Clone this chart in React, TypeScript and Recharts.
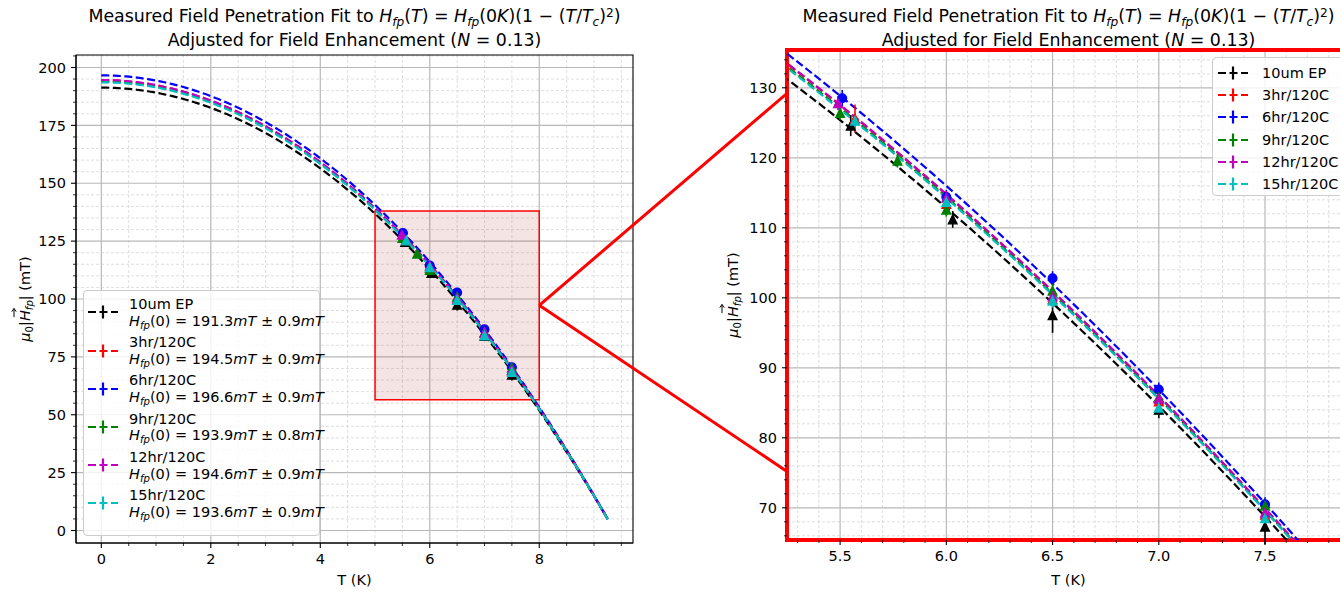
import React from 'react';
import {
  ComposedChart,
  Line,
  Scatter,
  XAxis,
  YAxis,
  ErrorBar,
  CartesianGrid,
  ReferenceArea,
} from 'recharts';

const FONT = '"DejaVu Sans", "Liberation Sans", sans-serif';

// ---- series metadata ----
const seriesNames = ['10um EP', '3hr/120C', '6hr/120C', '9hr/120C', '12hr/120C', '15hr/120C'];
const seriesColors = ['#000000', '#ff0000', '#0000ff', '#008000', '#bf00bf', '#00bfbf'];
const seriesMarkers = ['triangle', 'triangle', 'circle', 'triangle', 'triangle', 'triangle'];

// ---- fit results: H_fp(0) and its uncertainty (mT), shared critical temperature (K) ----
const fitH0 = [191.3, 194.5, 196.6, 193.9, 194.6, 193.6];
const fitH0Err = [0.9, 0.9, 0.9, 0.8, 0.9, 0.9];
const fitTc = 9.37;
const fitTEnd = 9.25;
const fitStep = 0.05;

// ---- measured field penetration (T in K, field in mT, error in mT) ----
const tempEP = [5.55, 6.03, 6.5, 7.0, 7.5];
const fieldEP = [124.6, 111.2, 97.5, 84.0, 67.3];
const errEP = [1.5, 1.2, 2.5, 1.2, 2.5];

const temp3h = [5.57, 6.0, 6.5, 7.0, 7.5];
const field3h = [125.6, 113.4, 99.8, 85.2, 69.0];
const err3h = [2.0, 1.0, 1.0, 1.0, 1.0];

const temp6h = [5.51, 6.0, 6.5, 7.0, 7.5];
const field6h = [128.5, 114.4, 102.8, 86.9, 70.5];
const err6h = [1.2, 1.0, 1.0, 1.0, 1.0];

const temp9h = [5.5, 5.77, 6.0, 6.5, 7.0, 7.5];
const field9h = [126.4, 119.6, 112.6, 101.0, 85.8, 70.3];
const err9h = [1.0, 1.0, 1.0, 1.0, 1.0, 1.0];

const temp12h = [5.49, 6.0, 6.5, 7.0, 7.5];
const field12h = [127.8, 114.3, 100.2, 85.6, 69.3];
const err12h = [1.0, 1.0, 1.0, 1.0, 1.0];

const temp15h = [5.57, 6.0, 6.5, 7.0, 7.5];
const field15h = [125.3, 113.7, 99.6, 84.3, 68.5];
const err15h = [1.0, 1.0, 1.0, 1.0, 1.0];

// ---- tick labels ----
const leftXTicks = [0, 2, 4, 6, 8];
const leftYTicks = [0, 25, 50, 75, 100, 125, 150, 175, 200];
const rightXTicks = [5.5, 6.0, 6.5, 7.0, 7.5];
const rightYTicks = [70, 80, 90, 100, 110, 120, 130];

// ---- zoom window highlighted on the full-range panel ----
const zoomT = [5, 8];
const zoomH = [56.5, 138];
// where the connector lines meet the zoomed panel (its field axis)
const connectorH = [129.2, 75.2];

// ---------------------------------------------------------------------------

const steps = (start: number, end: number, step: number) => {
  const out: number[] = [];
  const n = Math.round((end - start) / step);
  for (let i = 0; i <= n; i++) out.push(+(start + i * step).toFixed(4));
  return out;
};

const measured = [
  { T: tempEP, H: fieldEP, E: errEP },
  { T: temp3h, H: field3h, E: err3h },
  { T: temp6h, H: field6h, E: err6h },
  { T: temp9h, H: field9h, E: err9h },
  { T: temp12h, H: field12h, E: err12h },
  { T: temp15h, H: field15h, E: err15h },
];
const pointSets = measured.map((m) => m.T.map((t, i) => ({ T: t, H: m.H[i], err: m.E[i] })));

// Fit model from the title: H_fp(T) = H_fp(0K) (1 - (T/Tc)^2)
const fitTemps = steps(0, fitTEnd, fitStep);
const fitSets = fitH0.map((h0) => fitTemps.map((T) => ({ T, H: h0 * (1 - (T / fitTc) ** 2) })));

type Geom = {
  offsetLeft: number;
  width: number;
  height: number;
  plotLeft: number;
  plotRight: number;
  plotTop: number;
  plotBottom: number;
  xDomain: [number, number];
  yDomain: [number, number];
  xMajor: number[];
  xMinor: number[];
  yMajor: number[];
  yMinor: number[];
  xFmt: (v: number) => string;
  yFmt: (v: number) => string;
};

const LEFT: Geom = {
  offsetLeft: 0,
  width: 700,
  height: 592,
  plotLeft: 76,
  plotRight: 633,
  plotTop: 55,
  plotBottom: 543,
  xDomain: [-0.4625, 9.7125],
  yDomain: [-5.4, 205.4],
  xMajor: leftXTicks,
  xMinor: steps(0, 9.5, 0.5),
  yMajor: leftYTicks,
  yMinor: steps(0, 205, 5),
  xFmt: (v) => String(v),
  yFmt: (v) => String(v),
};

const RIGHT: Geom = {
  offsetLeft: 700,
  width: 700,
  height: 592,
  plotLeft: 787,
  plotRight: 1350,
  plotTop: 50,
  plotBottom: 540,
  xDomain: [5.25, 7.9],
  yDomain: [65.4, 135.4],
  xMajor: rightXTicks,
  xMinor: steps(5.3, 7.9, 0.1),
  yMajor: rightYTicks,
  yMinor: steps(66, 134, 2),
  xFmt: (v) => v.toFixed(1),
  yFmt: (v) => String(v),
};

const toPx = (g: Geom) => ({
  x: (v: number) => g.plotLeft + ((v - g.xDomain[0]) / (g.xDomain[1] - g.xDomain[0])) * (g.plotRight - g.plotLeft),
  y: (v: number) => g.plotBottom - ((v - g.yDomain[0]) / (g.yDomain[1] - g.yDomain[0])) * (g.plotBottom - g.plotTop),
});

const near = (list: number[], v: number) => list.some((m) => Math.abs(m - v) < 1e-6);

const makeXTick = (g: Geom) => (props: any) => {
  const { x, y, payload } = props;
  const v = Number(payload.value);
  const major = near(g.xMajor, v);
  return (
    <g>
      <line x1={x} x2={x} y1={y} y2={y + (major ? 5 : 3)} stroke="#000" strokeWidth={major ? 1.1 : 0.8} />
      {major && (
        <text x={x} y={y + 21} textAnchor="middle" fontSize={14.5} fontFamily={FONT} fill="#000">
          {g.xFmt(v)}
        </text>
      )}
    </g>
  );
};

const makeYTick = (g: Geom) => (props: any) => {
  const { x, y, payload } = props;
  const v = Number(payload.value);
  const major = near(g.yMajor, v);
  return (
    <g>
      <line x1={x - (major ? 5 : 3)} x2={x} y1={y} y2={y} stroke="#000" strokeWidth={major ? 1.1 : 0.8} />
      {major && (
        <text x={x - 10} y={y + 5.2} textAnchor="end" fontSize={14.5} fontFamily={FONT} fill="#000">
          {g.yFmt(v)}
        </text>
      )}
    </g>
  );
};

const TriangleMarker = (color: string) => (props: any) => {
  const { cx, cy } = props;
  if (cx == null || cy == null) return <g />;
  const r = 4.4;
  return (
    <polygon
      points={`${cx},${cy - r} ${cx - r},${cy + r} ${cx + r},${cy + r}`}
      fill={color}
      stroke={color}
      strokeWidth={1.3}
      strokeLinejoin="miter"
    />
  );
};

const CircleMarker = (color: string) => (props: any) => {
  const { cx, cy } = props;
  if (cx == null || cy == null) return <g />;
  return <circle cx={cx} cy={cy} r={4.4} fill={color} stroke={color} strokeWidth={1.3} />;
};

function Panel({ g, redFrame, zoomBox }: { g: Geom; redFrame?: boolean; zoomBox?: boolean }) {
  const xAxisH = 30;
  const margin = {
    top: g.plotTop,
    left: 0,
    right: g.width - (g.plotRight - g.offsetLeft),
    bottom: g.height - g.plotBottom - xAxisH,
  };
  const yAxisW = g.plotLeft - g.offsetLeft;
  const xTicks = Array.from(new Set([...g.xMinor, ...g.xMajor])).sort((a, b) => a - b);
  const yTicks = Array.from(new Set([...g.yMinor, ...g.yMajor])).sort((a, b) => a - b);
  const xMinorOnly = g.xMinor.filter((v) => !near(g.xMajor, v));
  const yMinorOnly = g.yMinor.filter((v) => !near(g.yMajor, v));

  return (
    <div style={{ position: 'absolute', left: g.offsetLeft, top: 0 }}>
      <ComposedChart width={g.width} height={g.height} margin={margin}>
        <CartesianGrid
          verticalValues={xMinorOnly}
          horizontalValues={yMinorOnly}
          stroke="#d6d6d6"
          strokeDasharray="3 2"
          strokeWidth={0.8}
        />
        <CartesianGrid verticalValues={g.xMajor} horizontalValues={g.yMajor} stroke="#b8b8b8" strokeWidth={1.2} />
        <XAxis
          type="number"
          dataKey="T"
          domain={g.xDomain}
          allowDataOverflow
          ticks={xTicks}
          interval={0}
          height={xAxisH}
          tickSize={0}
          tickMargin={0}
          tickLine={false}
          axisLine={redFrame ? false : { stroke: '#000', strokeWidth: 1.1 }}
          tick={makeXTick(g)}
        />
        <YAxis
          type="number"
          dataKey="H"
          domain={g.yDomain}
          allowDataOverflow
          ticks={yTicks}
          interval={0}
          width={yAxisW}
          tickSize={0}
          tickMargin={0}
          tickLine={false}
          axisLine={redFrame ? false : { stroke: '#000', strokeWidth: 1.1 }}
          tick={makeYTick(g)}
        />
        {zoomBox && (
          <ReferenceArea
            x1={zoomT[0]}
            x2={zoomT[1]}
            y1={zoomH[0]}
            y2={zoomH[1]}
            fill="#b03030"
            fillOpacity={0.13}
            stroke="#ff0000"
            strokeWidth={1.5}
            ifOverflow="visible"
          />
        )}
        {fitSets.map((d, i) => (
          <Line
            key={`fit-${i}`}
            data={d}
            dataKey="H"
            stroke={seriesColors[i]}
            strokeWidth={2.2}
            strokeDasharray="8 3.5"
            dot={false}
            activeDot={false}
            isAnimationActive={false}
            type="linear"
          />
        ))}
        {pointSets.map((d, i) => (
          <Scatter
            key={`pts-${i}`}
            data={d}
            dataKey="H"
            isAnimationActive={false}
            shape={seriesMarkers[i] === 'circle' ? CircleMarker(seriesColors[i]) : TriangleMarker(seriesColors[i])}
          >
            <ErrorBar dataKey="err" direction="y" width={0} stroke={seriesColors[i]} strokeWidth={1.6} isAnimationActive={false} />
          </Scatter>
        ))}
        <ReferenceArea
          x1={g.xDomain[0]}
          x2={g.xDomain[1]}
          y1={g.yDomain[0]}
          y2={g.yDomain[1]}
          fill="none"
          stroke={redFrame ? '#ff0000' : '#000'}
          strokeWidth={redFrame ? 4 : 1.1}
          ifOverflow="visible"
        />
      </ComposedChart>
    </div>
  );
}

const I = ({ children }: { children: React.ReactNode }) => <span style={{ fontStyle: 'italic' }}>{children}</span>;
const Sub = ({ children }: { children: React.ReactNode }) => (
  <span style={{ fontSize: '0.7em', position: 'relative', top: '0.3em' }}>{children}</span>
);
const Sup = ({ children }: { children: React.ReactNode }) => (
  <span style={{ fontSize: '0.7em', position: 'relative', top: '-0.45em' }}>{children}</span>
);

function Title({ cx }: { cx: number }) {
  return (
    <div
      style={{
        position: 'absolute',
        left: cx,
        top: 5,
        transform: 'translateX(-50%)',
        textAlign: 'center',
        fontFamily: FONT,
        fontSize: 17.4,
        lineHeight: '22px',
        whiteSpace: 'nowrap',
        color: '#000',
      }}
    >
      <div>
        Measured Field Penetration Fit to <I>H</I>
        <Sub>
          <I>fp</I>
        </Sub>
        (<I>T</I>) = <I>H</I>
        <Sub>
          <I>fp</I>
        </Sub>
        (0<I>K</I>)(1 − (<I>T</I>/<I>T</I>
        <Sub>
          <I>c</I>
        </Sub>
        )<Sup>2</Sup>)
      </div>
      <div>
        Adjusted for Field Enhancement (<I>N</I> = 0.13)
      </div>
    </div>
  );
}

function YLabel({ cx, cy }: { cx: number; cy: number }) {
  return (
    <div
      style={{
        position: 'absolute',
        left: cx,
        top: cy,
        transform: 'translate(-50%, -50%) rotate(-90deg)',
        whiteSpace: 'nowrap',
        fontFamily: FONT,
        fontSize: 14.5,
        lineHeight: '22px',
        color: '#000',
      }}
    >
      <I>μ</I>
      <Sub>0</Sub>|
      <span style={{ position: 'relative', display: 'inline-block' }}>
        <I>H</I>
        <svg
          width={10}
          height={6}
          style={{ position: 'absolute', left: 3, top: -3 }}
        >
          <line x1={0.5} y1={3} x2={9} y2={3} stroke="#000" strokeWidth={1} />
          <polyline points="6,0.8 9.2,3 6,5.2" fill="none" stroke="#000" strokeWidth={1} />
        </svg>
      </span>
      <Sub>
        <I>fp</I>
      </Sub>
      | (mT)
    </div>
  );
}

function XLabel({ cx }: { cx: number }) {
  return (
    <div
      style={{
        position: 'absolute',
        left: cx,
        top: 571,
        transform: 'translateX(-50%)',
        fontFamily: FONT,
        fontSize: 14.5,
        lineHeight: '18px',
        whiteSpace: 'nowrap',
        color: '#000',
      }}
    >
      T (K)
    </div>
  );
}

function LegendHandle({ color }: { color: string }) {
  return (
    <svg width={30} height={16} style={{ display: 'block' }}>
      <line x1={0} y1={8} x2={30} y2={8} stroke={color} strokeWidth={2.2} strokeDasharray="8 3.5" />
      <line x1={15} y1={1.5} x2={15} y2={14.5} stroke={color} strokeWidth={2.2} />
    </svg>
  );
}

function LeftLegend() {
  const top = 290;
  return (
    <div
      style={{
        position: 'absolute',
        left: 83,
        top,
        width: 237,
        height: 246,
        background: 'rgba(255,255,255,0.82)',
        border: '1px solid #cccccc',
        borderRadius: 4,
        boxSizing: 'border-box',
        fontFamily: FONT,
        fontSize: 14.5,
        color: '#000',
      }}
    >
      {seriesNames.map((name, i) => {
        const line1 = 304 - top - 1 + i * 38.2;
        const line2 = line1 + 16.7;
        return (
          <React.Fragment key={name}>
            <div style={{ position: 'absolute', left: 4, top: (line1 + line2) / 2 - 8 }}>
              <LegendHandle color={seriesColors[i]} />
            </div>
            <div style={{ position: 'absolute', left: 45, top: line1 - 9, lineHeight: '18px', whiteSpace: 'nowrap' }}>
              {name}
            </div>
            <div style={{ position: 'absolute', left: 45, top: line2 - 9, lineHeight: '18px', whiteSpace: 'nowrap' }}>
              <I>H</I>
              <Sub>
                <I>fp</I>
              </Sub>
              (0) = {fitH0[i].toFixed(1)}
              <I>mT</I> ± {fitH0Err[i].toFixed(1)}
              <I>mT</I>
            </div>
          </React.Fragment>
        );
      })}
    </div>
  );
}

function RightLegend() {
  const top = 57;
  return (
    <div
      style={{
        position: 'absolute',
        left: 1212,
        top,
        width: 140,
        height: 139,
        background: 'rgba(255,255,255,0.82)',
        border: '1px solid #cccccc',
        borderRadius: 4,
        boxSizing: 'border-box',
        fontFamily: FONT,
        fontSize: 14.5,
        color: '#000',
      }}
    >
      {seriesNames.map((name, i) => {
        const c = 73 - top - 1 + i * 22.2;
        return (
          <React.Fragment key={name}>
            <div style={{ position: 'absolute', left: 5, top: c - 8 }}>
              <LegendHandle color={seriesColors[i]} />
            </div>
            <div style={{ position: 'absolute', left: 49, top: c - 9, lineHeight: '18px', whiteSpace: 'nowrap' }}>
              {name}
            </div>
          </React.Fragment>
        );
      })}
    </div>
  );
}

function Connectors() {
  const l = toPx(LEFT);
  const r = toPx(RIGHT);
  const sx = l.x(zoomT[1]);
  const sy = l.y((zoomH[0] + zoomH[1]) / 2);
  const ex = r.x(RIGHT.xDomain[0]);
  return (
    <svg width={1340} height={592} style={{ position: 'absolute', left: 0, top: 0, pointerEvents: 'none' }}>
      {connectorH.map((h, i) => (
        <line key={i} x1={sx} y1={sy} x2={ex} y2={r.y(h)} stroke="#ff0000" strokeWidth={3} />
      ))}
    </svg>
  );
}

export default function App() {
  const leftCx = (LEFT.plotLeft + LEFT.plotRight) / 2;
  const rightCx = (RIGHT.plotLeft + RIGHT.plotRight) / 2;
  return (
    <div
      style={{
        position: 'fixed',
        left: 0,
        top: 0,
        width: 1340,
        height: 592,
        overflow: 'hidden',
        background: '#ffffff',
      }}
    >
      <Panel g={LEFT} zoomBox />
      <Panel g={RIGHT} redFrame />
      <Connectors />
      <Title cx={leftCx} />
      <Title cx={rightCx} />
      <YLabel cx={26} cy={(LEFT.plotTop + LEFT.plotBottom) / 2} />
      <YLabel cx={734} cy={(RIGHT.plotTop + RIGHT.plotBottom) / 2} />
      <XLabel cx={leftCx} />
      <XLabel cx={rightCx} />
      <LeftLegend />
      <RightLegend />
    </div>
  );
}
